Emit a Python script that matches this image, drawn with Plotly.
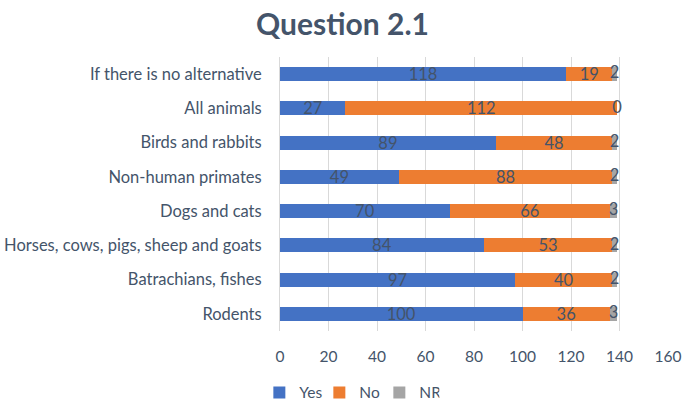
import plotly.graph_objects as go

categories = ["Rodents", "Batrachians, fishes", "Horses, cows, pigs, sheep and goats",
              "Dogs and cats", "Non-human primates", "Birds and rabbits",
              "All animals", "If there is no alternative"]
yes = [100, 97, 84, 70, 49, 89, 27, 118]
no = [36, 40, 53, 66, 88, 48, 112, 19]
nr = [3, 2, 2, 3, 2, 2, 0, 2]
x_ticks = [0, 20, 40, 60, 80, 100, 120, 140, 160]

FONT = "Lato"
TXT = "#44546A"

fig = go.Figure()
for name, vals, col, show_text in [("Yes", yes, "#4472C4", True), ("No", no, "#ED7D31", True),
                                   ("NR", nr, "#A5A5A5", False)]:
    fig.add_trace(go.Bar(
        y=categories, x=vals, name=name, orientation="h",
        marker=dict(color=col, line=dict(width=0)),
        text=[str(v) for v in vals] if show_text else None,
        textposition="inside" if show_text else "none", insidetextanchor="middle",
        textangle=0, constraintext="none", cliponaxis=False,
        textfont=dict(family=FONT, size=16.5, color=TXT),
    ))

# NR labels centred on their (tiny or empty) segments
nr_mid = [y + n + r / 2 for y, n, r in zip(yes, no, nr)]
fig.add_trace(go.Scatter(
    x=nr_mid, y=categories, mode="text", text=[str(v) for v in nr],
    textposition="middle center", showlegend=False, hoverinfo="skip", cliponaxis=False,
    textfont=dict(family=FONT, size=16.5, color=TXT),
))

fig.update_layout(
    barmode="stack", bargap=0.59,
    width=685, height=405,
    margin=dict(l=280, r=17, t=57, b=74),
    paper_bgcolor="white", plot_bgcolor="white",
    font=dict(family=FONT, size=15, color=TXT),
    title=dict(text="<b>Question 2.1</b>", x=0.5, xref="container", xanchor="center",
               y=0.94, yref="container", yanchor="middle",
               font=dict(family=FONT, size=30, color=TXT)),
    xaxis=dict(range=[0, 160], tickvals=x_ticks, showgrid=True, gridcolor="#D9D9D9",
               gridwidth=1, zeroline=False, showline=False, ticks="", automargin=False,
               ticklabelstandoff=14,
               tickfont=dict(family=FONT, size=15.5, color=TXT)),
    yaxis=dict(showline=True, linecolor="#D9D9D9", linewidth=1, ticks="",
               ticklabelstandoff=14, automargin=False,
               tickfont=dict(family=FONT, size=16.5, color=TXT)),
    legend=dict(orientation="h", x=0.51, xref="container", xanchor="center",
                y=0.03, yref="container", yanchor="middle",
                font=dict(family=FONT, size=15.5, color=TXT), traceorder="normal",
                itemwidth=30, entrywidth=15),
    showlegend=True,
)
fig.write_html("out.html", post_script="document.body.style.margin='0';",
               config={"displayModeBar": False})
